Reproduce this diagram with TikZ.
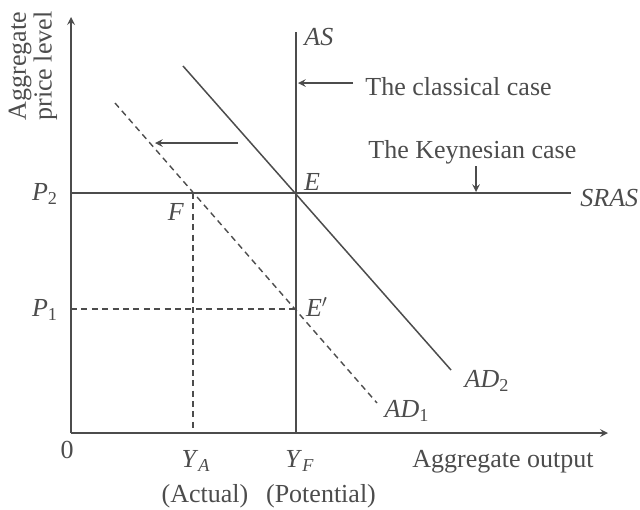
\documentclass[tikz,border=0pt]{standalone}
\usepackage{fontspec}
\setmainfont{Liberation Serif}
\usepackage{tikz}
\usetikzlibrary{arrows, positioning, calc}

\newcommand{\lbl}[2]{\textit{#1}\textsubscript{#2}}

\begin{document}
\begin{tikzpicture}[
    x=0.5pt, y=-0.5pt,
    ink/.style={black!70},
    axis/.style={ink, line width=0.75pt, -stealth},
    curve/.style={ink, line width=0.75pt},
    guide/.style={ink, line width=0.7pt, dash pattern=on 3pt off 2.2pt},
    pointer/.style={ink, line width=0.7pt, ->, >=stealth},
    lab/.style={text=black!70, font=\fontsize{13}{15}\selectfont, inner sep=1pt},
    every node/.style={lab}
]
\useasboundingbox (0,0) rectangle (640,509);

% Key points
\coordinate (O) at (71,433);
\coordinate (ytop) at (71,17);
\coordinate (xend) at (608,433);
\coordinate (E) at (296,193);
\coordinate (F) at (193,193);
\coordinate (Ep) at (296,309);
\coordinate (P2) at (71,193);
\coordinate (P1) at (71,309);
\coordinate (YA) at (193,433);
\coordinate (YF) at (296,433);
\coordinate (AStop) at (296,32);
\coordinate (SRASend) at (571,193);

% Axes
\draw[axis] (O) -- (ytop);
\draw[axis] (O) -- (xend);

% Aggregate supply
\draw[curve] (AStop) -- (YF);
\draw[curve] (P2) -- (SRASend);

% Aggregate demand
\coordinate (AD2a) at (183,66);
\coordinate (AD2b) at (451,370);
\coordinate (AD1a) at (115,103);
\coordinate (AD1b) at (377,403);
\draw[curve] (AD2a) -- (AD2b);
\draw[guide] (AD1a) -- (AD1b);

% Guide lines
\draw[guide] (P1) -- (Ep);
\draw[guide] (F) -- (YA);

% Shift of demand
\coordinate (shiftA) at (238,143);
\coordinate (shiftB) at (155,143);
\draw[pointer] (shiftA) -- (shiftB);

% Cases
\node[anchor=west] (classical) at (363,87) {The classical case};
\coordinate (classicalTip) at (298,83);
\draw[pointer] ($(classical.west)+(-10,-4)$) -- (classicalTip);

\node[anchor=west] (keynes) at (366,152) {The Keynesian case};
\coordinate (keynesTop) at (476,166);
\coordinate (keynesTip) at (476,192);
\draw[pointer] (keynesTop) -- (keynesTip);

% Curve labels
\node[anchor=west] (AS) at (302,37) {\textit{AS}};
\node[anchor=west] (SRAS) at (578,198) {\textit{SRAS}};
\node (AD2) at (487,381) {\lbl{AD}{2}};
\node (AD1) at (407,411) {\lbl{AD}{1}};

% Point labels
\node (Elab) at (312,182) {\textit{E}};
\node (Flab) at (176,212) {\textit{F}};
\node (Eplab) at (317,307) {\textit{E}$'$};

% Axis labels
\node (P2lab) at (45,194) {\lbl{P}{2}};
\node (P1lab) at (45,310) {\lbl{P}{1}};
\node (zero) at (67,450) {0};
\node (YAlab) at (196,461) {\textit{Y}\textsubscript{\textit{A}}};
\node (YFlab) at (300,461) {\textit{Y}\textsubscript{\textit{F}}};
\node (actual) at (205,496) {(Actual)};
\node (potential) at (321,496) {(Potential)};
\node (xlab) at (503,462) {Aggregate output};
\node[rotate=90, align=center, font=\fontsize{13}{9}\selectfont] (ylab) at (33,66) {Aggregate\\price level};

\end{tikzpicture}
\end{document}
